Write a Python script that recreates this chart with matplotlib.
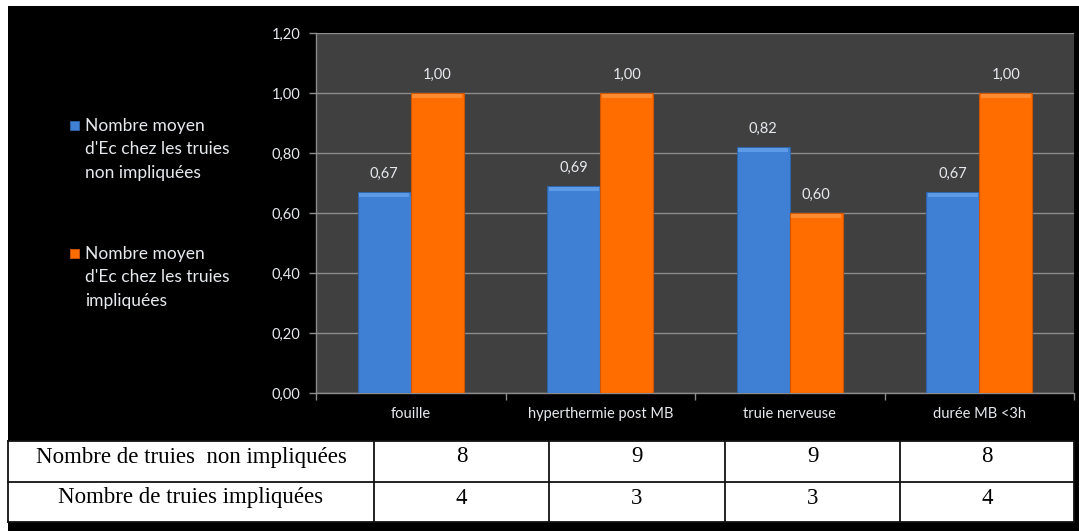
import matplotlib
matplotlib.use("Agg")
import matplotlib.pyplot as plt
from matplotlib.patches import Rectangle
from matplotlib.lines import Line2D
import numpy as np

# --- data ---
categories = ["fouille", "hyperthermie post MB", "truie nerveuse", "durée MB <3h"]
non_impliquees = [0.67, 0.69, 0.82, 0.67]
impliquees = [1.00, 1.00, 0.60, 1.00]
series_labels = ["Nombre moyen\nd'Ec chez les truies\nnon impliquées",
                 "Nombre moyen\nd'Ec chez les truies\nimpliquées"]
yticks = [0.0, 0.2, 0.4, 0.6, 0.8, 1.0, 1.2]
table_rows = ["Nombre de truies  non impliquées", "Nombre de truies impliquées"]
n_non_impliquees = [8, 9, 9, 8]
n_impliquees = [4, 3, 3, 4]

W, H = 1079, 531
SANS = ["Lato", "DejaVu Sans"]
SERIF = ["Liberation Serif", "DejaVu Serif"]

BLUE = "#3f80d4"
BLUE_TOP = "#5e9be6"
BLUE_EDGE = "#2f64aa"
ORANGE = "#ff6c00"
ORANGE_TOP = "#ff8a30"
ORANGE_EDGE = "#d05500"
PLOT_BG = "#404040"
GRID = "#8c8c8c"
TXT = "#e6e9ee"


def fx(x):
    return x / W


def fy(y):
    return 1 - y / H


fig = plt.figure(figsize=(W / 100, H / 100), dpi=100, facecolor="white")

# black backdrop behind the chart and table
fig.patches.append(Rectangle((fx(8), 0), 1, fy(6), transform=fig.transFigure,
                             facecolor="black", edgecolor="none", zorder=-5))

ax = fig.add_axes([fx(316), fy(393), (1074 - 316) / W, (393 - 33) / H])
ax.set_zorder(1)
ax.set_facecolor(PLOT_BG)

x = np.arange(len(categories))
bw = 0.28
ax.bar(x - bw / 2, non_impliquees, bw, color=BLUE, edgecolor=BLUE_EDGE,
       linewidth=0.8, zorder=3)
ax.bar(x + bw / 2, impliquees, bw, color=ORANGE, edgecolor=ORANGE_EDGE,
       linewidth=0.8, zorder=3)

# light bevel on the top of each bar
bevel = 0.014
ax.bar(x - bw / 2, bevel, bw * 0.94, bottom=np.array(non_impliquees) - bevel - 0.002,
       color=BLUE_TOP, edgecolor="none", zorder=4)
ax.bar(x + bw / 2, bevel, bw * 0.94, bottom=np.array(impliquees) - bevel - 0.002,
       color=ORANGE_TOP, edgecolor="none", zorder=4)

for xs, vals in ((x - bw / 2, non_impliquees), (x + bw / 2, impliquees)):
    for xi, v in zip(xs, vals):
        ax.annotate(f"{v:.2f}".replace(".", ","), (xi, v), xytext=(0, 8),
                    textcoords="offset points", ha="center", va="bottom",
                    color=TXT, fontsize=10.5, family=SANS)

ax.set_xlim(-0.5, len(categories) - 0.5)
ax.set_ylim(0, 1.2)
ax.set_yticks(yticks)
ax.set_yticklabels([f"{t:.2f}".replace(".", ",") for t in yticks],
                   color=TXT, fontsize=10.5, family=SANS)
ax.yaxis.grid(True, color=GRID, linewidth=1, zorder=1)
ax.set_axisbelow(True)

# category ticks at boundaries, labels centred
ax.set_xticks(np.arange(len(categories) + 1) - 0.5)
ax.set_xticklabels([])
ax.set_xticks(x, minor=True)
ax.set_xticklabels(categories, minor=True, color=TXT, fontsize=10.5, family=SANS)
ax.tick_params(axis="x", which="minor", length=0, pad=10)
ax.tick_params(axis="x", which="major", length=5, color=GRID, width=1)
ax.tick_params(axis="y", length=5, color=GRID, width=1, pad=6)

for side in ("top", "right"):
    ax.spines[side].set_visible(False)
for side in ("left", "bottom"):
    ax.spines[side].set_color(GRID)
    ax.spines[side].set_linewidth(1)

# legend on the left
legend_items = [(BLUE, BLUE_EDGE, 126, series_labels[0]),
                (ORANGE, ORANGE_EDGE, 254, series_labels[1])]
for col, ecol, ytop, label in legend_items:
    fig.patches.append(Rectangle((fx(70), fy(ytop + 4)), 9 / W, 9 / H,
                                 transform=fig.transFigure, facecolor=col,
                                 edgecolor=ecol, linewidth=0.6, zorder=5))
    for i, line in enumerate(label.split("\n")):
        fig.text(fx(85), fy(ytop + i * 23.5), line, ha="left", va="center",
                 color=TXT, fontsize=12.5, family=SANS)

# counts table under the chart
t_left, t_right, t_top, t_mid, t_bot = 8, 1074, 441, 482, 522
col_edges = [8, 374, 549, 725, 900, 1074]
fig.patches.append(Rectangle((fx(t_left), fy(t_bot)), (t_right - t_left) / W,
                             (t_bot - t_top) / H, transform=fig.transFigure,
                             facecolor="white", edgecolor="none", zorder=2))
lines_kw = dict(transform=fig.transFigure, color="#111111", linewidth=1.3, zorder=3)
for yy in (t_top, t_mid, t_bot):
    fig.lines.append(Line2D([fx(t_left), fx(t_right)], [fy(yy), fy(yy)], **lines_kw))
for xx in col_edges:
    fig.lines.append(Line2D([fx(xx), fx(xx)], [fy(t_top), fy(t_bot)], **lines_kw))

row_centres = [457, 498]
for rc, label, counts in zip(row_centres, table_rows, (n_non_impliquees, n_impliquees)):
    fig.text(fx((col_edges[0] + col_edges[1]) / 2), fy(rc), label, ha="center",
             va="center", color="black", fontsize=16.5, family=SERIF, zorder=4)
    for j, c in enumerate(counts):
        fig.text(fx((col_edges[j + 1] + col_edges[j + 2]) / 2), fy(rc), str(c),
                 ha="center", va="center", color="black", fontsize=16.5,
                 family=SERIF, zorder=4)

fig.savefig("out.png", dpi=100, facecolor=fig.get_facecolor())
